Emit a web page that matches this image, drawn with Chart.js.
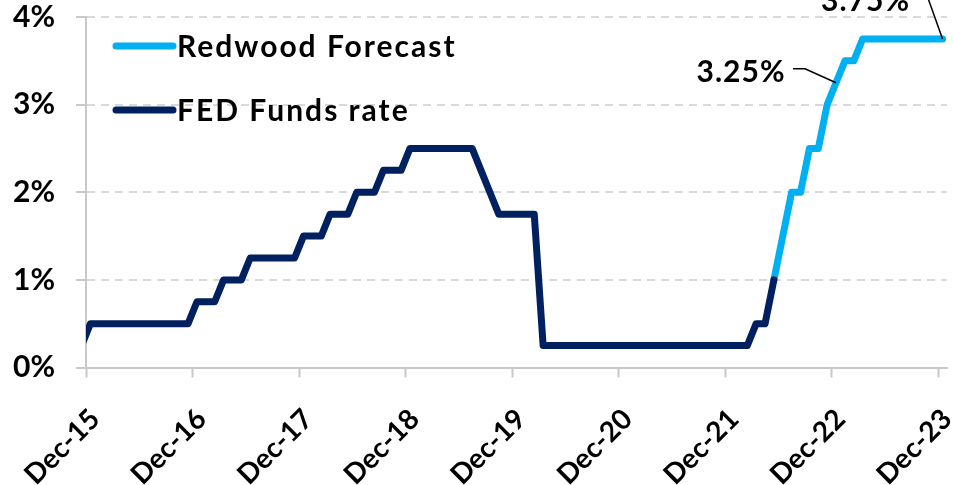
<!DOCTYPE html>
<html>
<head>
<meta charset="utf-8">
<title>FED Funds rate vs Redwood Forecast</title>
<script src="https://cdn.jsdelivr.net/npm/chart.js@4.4.0/dist/chart.umd.min.js"></script>
<style>
  html, body { margin: 0; padding: 0; background: #fff; }
  #wrap { width: 953px; height: 485px; position: relative; }
</style>
</head>
<body>
<div id="wrap"><canvas id="rateChart"></canvas></div>
<script>
// month-end values, Nov-15 .. Dec-23
const months = [
    'Nov-15', 'Dec-15',
    'Jan-16', 'Feb-16', 'Mar-16', 'Apr-16', 'May-16', 'Jun-16', 'Jul-16', 'Aug-16', 'Sep-16', 'Oct-16', 'Nov-16', 'Dec-16',
    'Jan-17', 'Feb-17', 'Mar-17', 'Apr-17', 'May-17', 'Jun-17', 'Jul-17', 'Aug-17', 'Sep-17', 'Oct-17', 'Nov-17', 'Dec-17',
    'Jan-18', 'Feb-18', 'Mar-18', 'Apr-18', 'May-18', 'Jun-18', 'Jul-18', 'Aug-18', 'Sep-18', 'Oct-18', 'Nov-18', 'Dec-18',
    'Jan-19', 'Feb-19', 'Mar-19', 'Apr-19', 'May-19', 'Jun-19', 'Jul-19', 'Aug-19', 'Sep-19', 'Oct-19', 'Nov-19', 'Dec-19',
    'Jan-20', 'Feb-20', 'Mar-20', 'Apr-20', 'May-20', 'Jun-20', 'Jul-20', 'Aug-20', 'Sep-20', 'Oct-20', 'Nov-20', 'Dec-20',
    'Jan-21', 'Feb-21', 'Mar-21', 'Apr-21', 'May-21', 'Jun-21', 'Jul-21', 'Aug-21', 'Sep-21', 'Oct-21', 'Nov-21', 'Dec-21',
    'Jan-22', 'Feb-22', 'Mar-22', 'Apr-22', 'May-22', 'Jun-22', 'Jul-22', 'Aug-22', 'Sep-22', 'Oct-22', 'Nov-22', 'Dec-22',
    'Jan-23', 'Feb-23', 'Mar-23', 'Apr-23', 'May-23', 'Jun-23', 'Jul-23', 'Aug-23', 'Sep-23', 'Oct-23', 'Nov-23', 'Dec-23'
];

// fed funds target (upper bound), starts Nov-15
const fedRate = [
    0.25, 0.50,
    0.50, 0.50, 0.50, 0.50, 0.50, 0.50, 0.50, 0.50, 0.50, 0.50, 0.50, 0.75,
    0.75, 0.75, 1.00, 1.00, 1.00, 1.25, 1.25, 1.25, 1.25, 1.25, 1.25, 1.50,
    1.50, 1.50, 1.75, 1.75, 1.75, 2.00, 2.00, 2.00, 2.25, 2.25, 2.25, 2.50,
    2.50, 2.50, 2.50, 2.50, 2.50, 2.50, 2.50, 2.25, 2.00, 1.75, 1.75, 1.75,
    1.75, 1.75, 0.25, 0.25, 0.25, 0.25, 0.25, 0.25, 0.25, 0.25, 0.25, 0.25,
    0.25, 0.25, 0.25, 0.25, 0.25, 0.25, 0.25, 0.25, 0.25, 0.25, 0.25, 0.25,
    0.25, 0.25, 0.50, 0.50, 1.00
];

// forecast path, starts May-22
const forecastStart = 'May-22';
const forecast = [
    1.00, 1.50, 2.00, 2.00, 2.50, 2.50, 3.00, 3.25,
    3.50, 3.50, 3.75, 3.75, 3.75, 3.75, 3.75, 3.75, 3.75, 3.75, 3.75, 3.75
];

const tickLabels = ['Dec-15', 'Dec-16', 'Dec-17', 'Dec-18', 'Dec-19', 'Dec-20', 'Dec-21', 'Dec-22', 'Dec-23'];

// callouts on the forecast line
const callouts = ['Dec-22', 'Dec-23'];

const BLUE = '#00B0F0';
const NAVY = '#002060';

// x is months since start of Dec-15, each value plotted mid-month
const toPoints = (vals, first) => {
    const start = months.indexOf(first);
    return vals.map((v, i) => ({ x: start + i - 0.5, y: v }));
};

const fedPoints = toPoints(fedRate, months[0]);
const forecastPoints = toPoints(forecast, forecastStart);

// legend drawn inside the plot, top-left
const insideLegend = {
    id: 'insideLegend',
    afterDraw(chart) {
        const { ctx, chartArea } = chart;
        ctx.save();
        ctx.font = 'bold 30px Lato';
        ctx.letterSpacing = '2px';
        ctx.textBaseline = 'middle';
        ctx.lineCap = 'round';
        chart.data.datasets.forEach((ds, i) => {
            const y = chartArea.top + 29 + i * 64;
            const x0 = chartArea.left + 30;
            ctx.strokeStyle = ds.borderColor;
            ctx.lineWidth = 7;
            ctx.beginPath();
            ctx.moveTo(x0, y);
            ctx.lineTo(x0 + 57, y);
            ctx.stroke();
            ctx.fillStyle = '#000';
            ctx.fillText(ds.label, x0 + 61, y + 1);
        });
        ctx.restore();
    }
};

// value labels with leader lines
const calloutLabels = {
    id: 'calloutLabels',
    afterDatasetsDraw(chart) {
        const { ctx, scales } = chart;
        const layout = {
            'Dec-22': { text: [-95, -10], stub: [-43, -31, -14] },
            'Dec-23': { text: [-77, -38], stub: [-28, -15, -42] }
        };
        ctx.save();
        ctx.font = 'bold 30px Lato';
        ctx.letterSpacing = '1px';
        ctx.textAlign = 'center';
        ctx.textBaseline = 'middle';
        ctx.strokeStyle = '#000';
        ctx.fillStyle = '#000';
        ctx.lineWidth = 1.5;
        callouts.forEach((m) => {
            const p = forecastPoints[months.indexOf(m) - months.indexOf(forecastStart)];
            const px = scales.x.getPixelForValue(p.x);
            const py = scales.y.getPixelForValue(p.y);
            const l = layout[m];
            ctx.beginPath();
            ctx.moveTo(px + l.stub[0], py + l.stub[2]);
            ctx.lineTo(px + l.stub[1], py + l.stub[2]);
            ctx.lineTo(px, py);
            ctx.stroke();
            ctx.fillText(p.y.toFixed(2) + '%', px + l.text[0], py + l.text[1]);
        });
        ctx.restore();
    }
};

Chart.defaults.font.family = 'Lato';
Chart.defaults.font.size = 30;
Chart.defaults.font.weight = 'bold';
Chart.defaults.color = '#000';

const ctx = document.getElementById('rateChart').getContext('2d');
new Chart(ctx, {
    type: 'line',
    data: {
        datasets: [{
            label: 'Redwood Forecast',
            data: forecastPoints,
            borderColor: BLUE,
            borderWidth: 7,
            pointRadius: 0,
            borderJoinStyle: 'round',
            borderCapStyle: 'round',
            clip: 0,
            order: 1
        }, {
            label: 'FED Funds rate',
            data: fedPoints,
            borderColor: NAVY,
            borderWidth: 7,
            pointRadius: 0,
            borderJoinStyle: 'round',
            borderCapStyle: 'round',
            clip: 0,
            order: 0
        }]
    },
    options: {
        responsive: true,
        maintainAspectRatio: false,
        animation: false,
        events: [],
        layout: { padding: 0 },
        plugins: {
            legend: { display: false },
            tooltip: { enabled: false }
        },
        scales: {
            x: {
                type: 'linear',
                min: 0,
                max: months.length - 1,
                afterFit: (s) => {
                    s.height = 117.5;
                    s.paddingLeft = 0;
                    s.paddingRight = 6;
                },
                afterBuildTicks: (s) => {
                    s.ticks = tickLabels.map((l) => ({ value: months.indexOf(l) - 1 }));
                },
                grid: { drawOnChartArea: false, tickLength: 10, tickColor: '#c8c8c8', tickWidth: 2 },
                border: { color: '#c8c8c8', width: 2 },
                ticks: {
                    autoSkip: false,
                    minRotation: 45,
                    maxRotation: 45,
                    padding: 25,
                    labelOffset: 9,
                    font: { size: 28 },
                    callback: (v) => months[v + 1]
                }
            },
            y: {
                min: 0,
                max: 4,
                afterFit: (s) => {
                    s.width = 86;
                    s.paddingTop = 17;
                    s.paddingBottom = 0;
                },
                grid: { color: '#d9d9d9', lineWidth: 2, tickLength: 10, tickColor: '#c8c8c8', tickWidth: 2 },
                border: { color: '#c8c8c8', width: 2, dash: [8, 6] },
                ticks: {
                    stepSize: 1,
                    padding: 21,
                    callback: (v) => v + '%'
                }
            }
        }
    },
    plugins: [insideLegend, calloutLabels]
});
</script>
</body>
</html>
